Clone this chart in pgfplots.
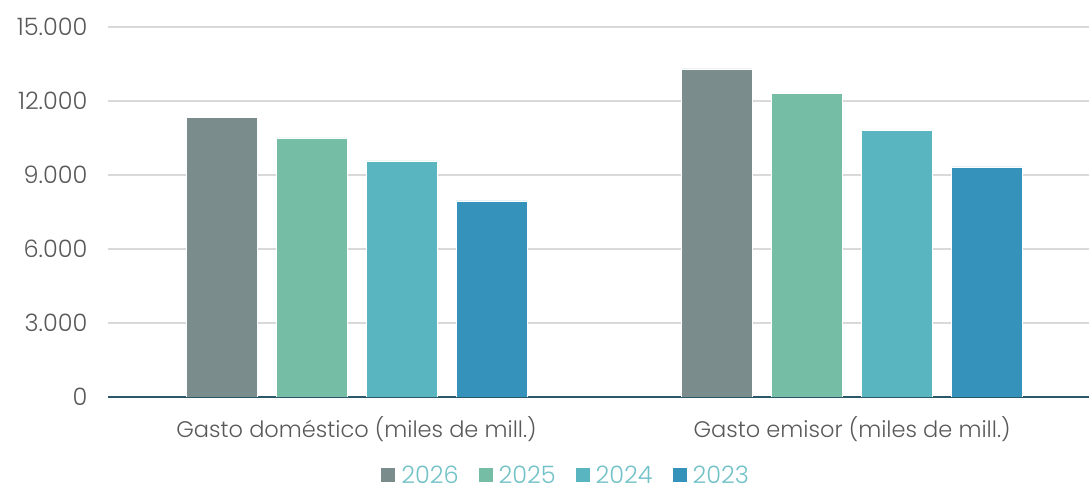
\documentclass[border=0pt]{standalone}
\usepackage{fontspec}
\setmainfont{Poppins}[UprightFont=* Light]
\usepackage{pgfplots}
\pgfplotsset{compat=1.18}
\definecolor{c26}{HTML}{7A8C8C}
\definecolor{c25}{HTML}{75BDA5}
\definecolor{c24}{HTML}{59B5C0}
\definecolor{c23}{HTML}{3592BB}
\definecolor{gridc}{HTML}{D9D9D9}
\definecolor{axisc}{HTML}{2A5868}
\definecolor{labc}{HTML}{595959}
\definecolor{legc}{HTML}{72C2C8}
\begin{document}
\begin{tikzpicture}
\begin{axis}[
  scale only axis, width=981pt, height=370pt,
  xmin=-0.5015, xmax=1.478, ymin=0, ymax=15000,
  ytick={0,3000,...,15000},
  xtick={0,1},
  xticklabels={Gasto doméstico (miles de mill.), Gasto emisor (miles de mill.)},
  ymajorgrids, grid style={line width=1.5pt, color=gridc},
  axis x line*=bottom, axis y line*=left,
  y axis line style={draw=none},
  x axis line style={line width=1.6pt, color=axisc},
  major tick length=0pt,
  tick label style={text=labc},
  yticklabel style={font=\fontsize{24}{28}\selectfont, xshift=-17pt},
  xticklabel style={font=\fontsize{22.5}{27}\selectfont, yshift=-16pt},
  scaled y ticks=false,
  /pgf/number format/1000 sep={.},
  /pgf/number format/assume math mode=true,
  ybar, bar width=0.143,
  every axis plot/.append style={draw=white, line width=0.6pt},
  legend style={at={(0.467,-0.212)}, anchor=center, draw=none, legend columns=-1,
    font=\fontsize{24}{28}\selectfont, text=legc, inner sep=0pt,
    /tikz/every odd column/.append style={column sep=4pt},
    /tikz/every even column/.append style={column sep=18pt}},
  legend image code/.code={\fill[#1,draw=none] (0pt,-7pt) rectangle (14pt,7pt);},
]
\addplot[fill=c26, bar shift=-0.2725] coordinates {(0,11320) (1,13300)};
\addplot[fill=c25, bar shift=-0.0908] coordinates {(0,10500) (1,12320)};
\addplot[fill=c24, bar shift=0.0908] coordinates {(0,9570) (1,10820)};
\addplot[fill=c23, bar shift=0.2725] coordinates {(0,7950) (1,9330)};
\legend{2026,2025,2024,2023}
\end{axis}
\pgfresetboundingbox
\path ([xshift=-108pt,yshift=-95pt]current axis.south west) rectangle ([yshift=27pt]current axis.north east);
\end{tikzpicture}
\end{document}
